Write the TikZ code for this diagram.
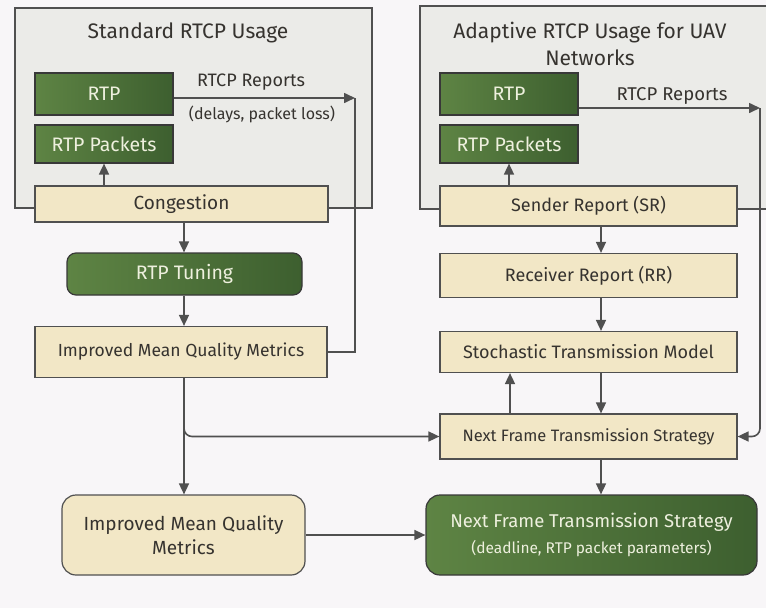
\documentclass[tikz,border=0pt]{standalone}
\usepackage{fontspec}
\setmainfont{Fira Sans}
\usetikzlibrary{arrows.meta,calc}
\definecolor{bgc}{HTML}{F8F6F8}
\definecolor{panel}{HTML}{EBEBE8}
\definecolor{edge}{HTML}{505050}
\definecolor{cream}{HTML}{F2E7C6}
\definecolor{greenL}{HTML}{5E8444}
\definecolor{greenD}{HTML}{3D5F2F}
\definecolor{txt}{HTML}{36332F}
\definecolor{ltxt}{HTML}{EEF0DE}
\newcommand{\fs}[1]{\fontsize{#1}{#1}\selectfont}
\tikzset{
  x=1pt,y=-1pt,
  every node/.style={font=\fs{18}, text=txt, align=center, inner sep=0pt},
  creambox/.style={draw=edge, line width=1.2pt, fill=cream, minimum width=#1},
  greenbox/.style={draw=edge!70!black, line width=1.2pt, left color=greenL, right color=greenD, text=ltxt, minimum width=#1, font=\fs{19.5}},
  conn/.style={draw=edge, line width=1.6pt, -{Triangle[length=11pt,width=10pt]}},
  plain/.style={draw=edge, line width=1.6pt},
  paneltitle/.style={font=\fs{21}},
  lbl/.style={font=\fs{18.5}}
}
\begin{document}
\begin{tikzpicture}
\useasboundingbox[fill=bgc] (0,0) rectangle (766,608);
% panels
\draw[fill=panel, draw=edge, line width=1.2pt] (15,8) rectangle (372,208);
\fill[panel] (420,6) rectangle (766,209);
\draw[edge, line width=1.2pt] (766,6) -- (420,6) -- (420,209) -- (766,209);
\node[paneltitle] (titleL) at (188,33) {Standard RTCP Usage};
\node[paneltitle, font=\fontsize{21}{27}\selectfont] (titleR) at (590,44) {Adaptive RTCP Usage for UAV\\Networks};
% left column
\node[greenbox=138pt, minimum height=42pt] (rtpL) at (104,94) {RTP};
\node[greenbox=138pt, minimum height=38pt] (pktL) at (104,144) {RTP Packets};
\node[creambox=293pt, minimum height=36pt, font=\fs{19}] (cong) at (181.5,204) {Congestion};
\node[greenbox=235pt, minimum height=42pt, rounded corners=9pt] (tune) at (184.5,274) {RTP Tuning};
\node[creambox=292pt, minimum height=51pt, font=\fs{17.5}] (imqm) at (181,352) {Improved Mean Quality Metrics};
\node[creambox=243pt, minimum height=80pt, rounded corners=14pt, font=\fontsize{19}{24}\selectfont, text depth=0pt] (imqm2) at (183.5,535) {Improved Mean Quality\\Metrics};
\node[lbl, font=\fs{18}] (rtcpL) at (251,82) {RTCP Reports};
\node[lbl, font=\fs{16}] (delay) at (262,114) {(delays, packet loss)};
% right column
\node[greenbox=138pt, minimum height=42pt] (rtpR) at (509,94) {RTP};
\node[greenbox=138pt, minimum height=38pt] (pktR) at (509,144) {RTP Packets};
\node[creambox=297pt, minimum height=40pt] (sr) at (588.5,206) {Sender Report (SR)};
\node[creambox=297pt, minimum height=44pt] (rr) at (588.5,275.5) {Receiver Report (RR)};
\node[creambox=297pt, minimum height=41pt] (stm) at (588.5,352) {Stochastic Transmission Model};
\node[creambox=297pt, minimum height=45pt, font=\fs{16.5}] (nfts) at (588.5,436.5) {Next Frame Transmission Strategy};
\node[greenbox=331pt, minimum height=80pt, rounded corners=14pt, font=\fs{18.5}] (final) at (591.5,535) {Next Frame Transmission Strategy\\[7pt]{\fs{15.5}(deadline, RTP packet parameters)}};
\node[lbl] (rtcpR) at (672,96) {RTCP Reports};
% coordinates
\coordinate (cL) at (355,98);
\coordinate (cR) at (760,108);
\coordinate (xR) at (601,0);
\coordinate (xU) at (510,0);
% left connectors
\draw[conn] (rtpL.east |- cL) -- (cL);
\draw[plain] (imqm.east) -| (cL);
\draw[conn] (cong.north -| pktL.south) -- (pktL.south);
\draw[conn] (184,0 |- cong.south) -- (184,0 |- tune.north);
\draw[conn] (184,0 |- tune.south) -- (184,0 |- imqm.north);
\draw[conn] (184,0 |- imqm.south) -- (184,0 |- imqm2.north);
\draw[conn, rounded corners=8pt] (184,0 |- imqm.south) |- (nfts.west);
\draw[conn] (imqm2.east) -- (final.west);
% right connectors
\draw[conn] (rtpR.east |- cR) -- (cR);
\draw[conn, rounded corners=8pt] (cR) |- (nfts.east);
\draw[conn] (sr.north -| pktR.south) -- (pktR.south);
\draw[conn] (xR |- sr.south) -- (xR |- rr.north);
\draw[conn] (xR |- rr.south) -- (xR |- stm.north);
\draw[conn] (xR |- stm.south) -- (xR |- nfts.north);
\draw[conn] (xU |- nfts.north) -- (xU |- stm.south);
\draw[conn] (xR |- nfts.south) -- (xR |- final.north);
\end{tikzpicture}
\end{document}
